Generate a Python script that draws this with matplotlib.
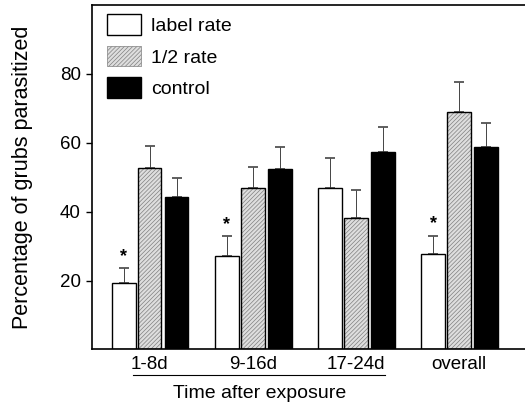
import matplotlib
matplotlib.use("Agg")
import matplotlib.pyplot as plt
from matplotlib.patches import Patch
import numpy as np

plt.rcParams['font.family'] = ['Liberation Sans', 'DejaVu Sans']
plt.rcParams['hatch.linewidth'] = 0.5

groups = ['1-8d', '9-16d', '17-24d', 'overall']
series = ['label rate', '1/2 rate', 'control']
label_rate = [19.2, 27.0, 46.9, 27.6]
label_err = [4.4, 5.9, 8.7, 5.4]
half_rate = [52.5, 46.9, 38.0, 69.0]
half_err = [6.5, 5.9, 8.2, 8.5]
control = [44.1, 52.3, 57.4, 58.6]
control_err = [5.6, 6.4, 7.0, 7.0]
signif = [True, True, False, True]
yticks = [20, 40, 60, 80]

fig = plt.figure(figsize=(5.25, 4.08), dpi=100)
ax = fig.add_axes([0.175, 0.1434, 0.825, 0.845])

x = np.arange(len(groups))
w = 0.225
offs = [-0.252, 0.0, 0.262]
hatch_face = '#dedede'
hatch_line = '#808080'

# label rate (open)
ax.bar(x + offs[0], label_rate, w, color='white', edgecolor='black', linewidth=1.0, zorder=2)
# 1/2 rate (hatched grey)
ax.bar(x + offs[1], half_rate, w, color=hatch_face, edgecolor=hatch_line, linewidth=0,
       hatch='////////', zorder=2)
ax.bar(x + offs[1], half_rate, w, color='none', edgecolor='black', linewidth=1.0, zorder=3)
# control (black)
ax.bar(x + offs[2], control, w, color='black', edgecolor='black', linewidth=1.0, zorder=2)

for vals, errs, o in [(label_rate, label_err, offs[0]), (half_rate, half_err, offs[1]),
                      (control, control_err, offs[2])]:
    ax.errorbar(x + o, vals, yerr=[np.zeros(len(vals)), errs], fmt='none',
                ecolor='#444444', elinewidth=0.7, capsize=3.6, capthick=1.2, zorder=1)

for i in range(len(groups)):
    if signif[i]:
        ax.text(x[i] + offs[0], label_rate[i] + label_err[i] + 1.0, '*',
                ha='center', va='bottom', fontsize=13, fontweight='bold')

handles = [Patch(facecolor='white', edgecolor='black', linewidth=1.0),
           Patch(facecolor=hatch_face, edgecolor=hatch_line, hatch='////////', linewidth=0.5),
           Patch(facecolor='black', edgecolor='black')]
ax.legend(handles, series, loc='upper left', bbox_to_anchor=(0.035, 0.972),
          frameon=False, fontsize=14, borderpad=0, borderaxespad=0,
          handlelength=1.75, handleheight=1.25, handletextpad=0.5, labelspacing=0.55)

ax.set_xlim(-0.563, 3.64)
ax.set_ylim(0, 100)
ax.set_yticks(yticks)
ax.set_yticklabels([str(t) for t in yticks], fontsize=13.5)
ax.set_xticks(x)
ax.set_xticklabels(groups, fontsize=13.5)
ax.tick_params(axis='x', length=0, pad=5)
ax.tick_params(axis='y', direction='out', length=4, width=1, pad=4)
ax.spines['right'].set_visible(False)
for s in ['left', 'top', 'bottom']:
    ax.spines[s].set_linewidth(1.2)

ax.set_ylabel('Percentage of grubs parasitized', fontsize=15.5, labelpad=19)

trans = ax.get_xaxis_transform()
ax.plot([-0.165, 2.28], [-0.074, -0.074], color='black', linewidth=0.8,
        transform=trans, clip_on=False)
ax.text(1.06, -0.128, 'Time after exposure', transform=trans, ha='center',
        va='center', fontsize=14)

fig.savefig('out.png', dpi=100)
